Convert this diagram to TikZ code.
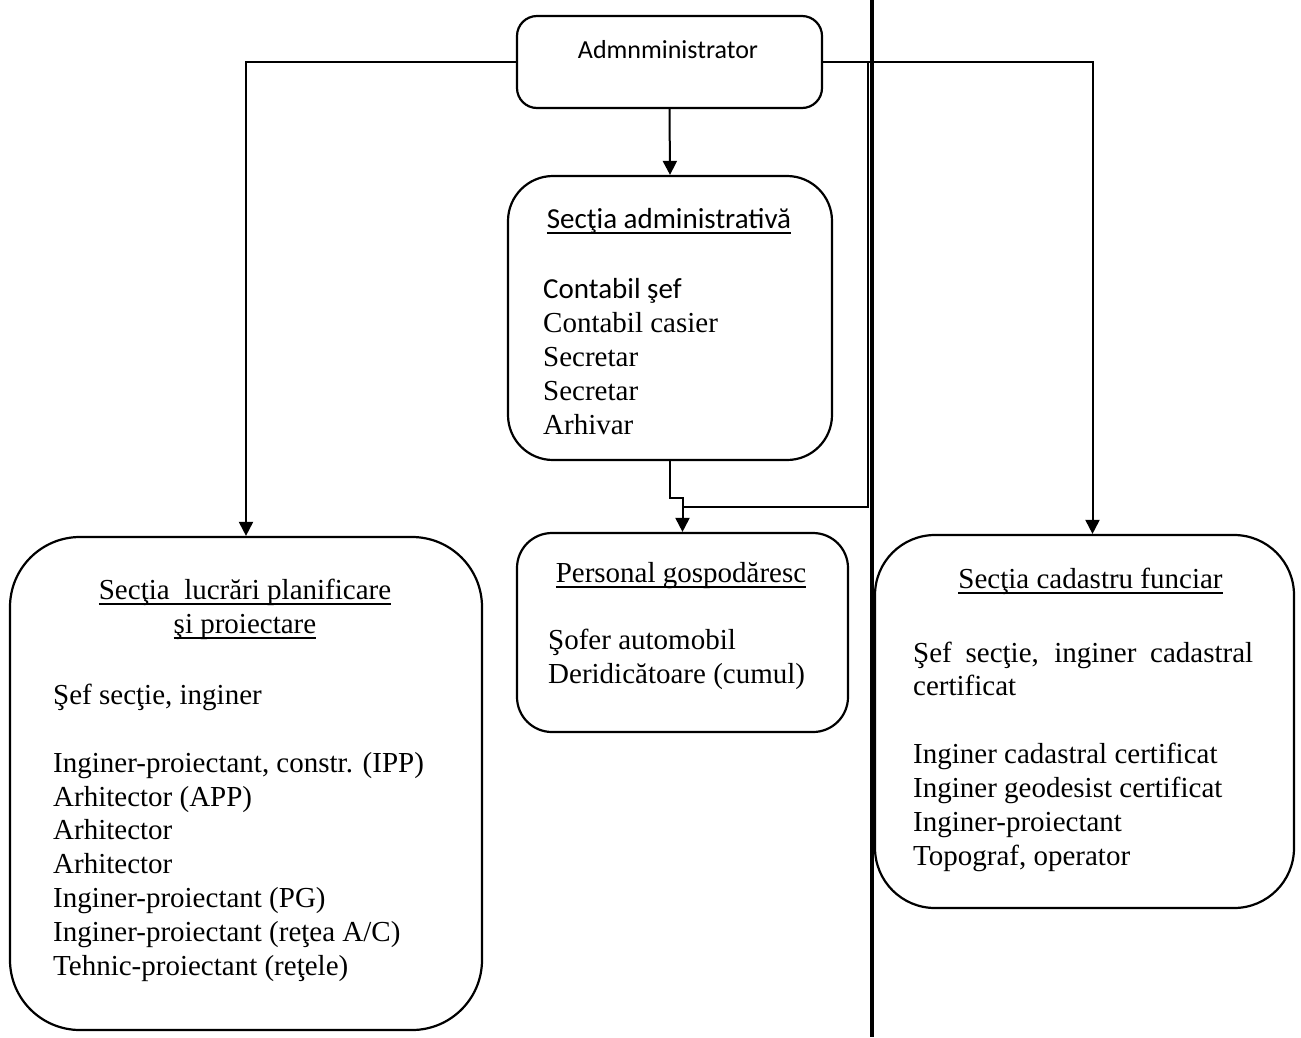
\documentclass[tikz,border=0pt]{standalone}
\usepackage{fontspec}
\setmainfont{Liberation Serif}
\newfontfamily\calibri{Carlito}
\usetikzlibrary{arrows.meta}
\newcommand\boxfont{\fontsize{29}{33.8}\selectfont}
\newcommand\ulin[1]{\setbox0\hbox{#1}\rlap{\rule[-5.6pt]{\wd0}{1.6pt}}\box0}

\tikzset{
    box/.style={draw, line width=2.2pt, rounded corners=#1, inner sep=0pt},
    box/.default=30pt,
    txt/.style={inner sep=0pt, anchor=base west, align=left, font=\boxfont},
    ttl/.style={inner sep=0pt, anchor=base, align=center, font=\boxfont},
    conn/.style={line width=2pt},
    arr/.style={conn, -{Triangle[width=14pt,length=14pt]}},
}

\begin{document}
\begin{tikzpicture}[x=1pt, y=-1pt]

    \useasboundingbox (0,0) rectangle (1301,1037);

    % admin
    \node[box=20pt, minimum width=305pt, minimum height=92pt] (adm) at (669.5,62) {};
    \node[ttl, font=\calibri\fontsize{26}{31}\selectfont] (admtxt) at (668,58) {Admnministrator};

    % sectia administrativa (text nodes sit on their last line)
    \node[box=45pt, minimum width=324pt, minimum height=284pt] (sadm) at (670,318) {};
    \node[ttl, font=\calibri\boxfont] (sadmttl) at (669,228) {\ulin{Secţia administrativă}};
    \node[txt] (sadmtxt) at (543,434) {{\calibri Contabil şef}\\Contabil casier\\Secretar\\Secretar\\Arhivar};

    % personal gospodaresc
    \node[box=35pt, minimum width=331pt, minimum height=199pt] (pers) at (682.5,632.5) {};
    \node[ttl] (pttl) at (681,582) {\ulin{Personal gospodăresc}};
    \node[txt] (ptxt) at (548,683) {Şofer automobil\\Deridicătoare (cumul)};

    % sectia lucrari
    \node[box=70pt, minimum width=472pt, minimum height=493pt] (lbox) at (246,783.5) {};
    \node[ttl] (lttl) at (245,633) {\ulin{Secţia\ \ lucrări planificare}\\\ulin{şi proiectare}};
    \node[txt] (ltxt) at (53,975) {Şef secţie, inginer\\[34pt]Inginer-proiectant, constr. (IPP)\\Arhitector (APP)\\Arhitector\\Arhitector\\Inginer-proiectant (PG)\\Inginer-proiectant (reţea A/C)\\Tehnic-proiectant (reţele)};

    % sectia cadastru
    \node[box=60pt, minimum width=419pt, minimum height=373pt] (rbox) at (1084.5,721.5) {};
    \node[ttl] (rttl) at (1090.5,588) {\ulin{Secţia cadastru funciar}};
    \node[txt] (rtxt) at (913,865) {\makebox[340pt][s]{Şef secţie, inginer cadastral}\\certificat\\[34pt]Inginer cadastral certificat\\Inginer geodesist certificat\\Inginer-proiectant\\Topograf, operator};

    % separator
    \coordinate (sepa) at (872,0);
    \coordinate (sepb) at (872,1037);
    \draw[line width=3.5pt] (sepa) -- (sepb);

    % connectors
    \draw[arr] (adm.west) -| (lbox.north);
    \draw[arr] (adm.east) -| ([xshift=8pt]rbox.north);
    \draw[arr] (adm.south) -- (sadm.north);
    \coordinate (brk) at (868,62); % off the admin line
    \coordinate (jn) at (682.5,507);
    \draw[conn] (brk) |- (jn);
    \draw[arr] (sadm.south) -- ++(0,37) -| (pers.north);

\end{tikzpicture}
\end{document}
